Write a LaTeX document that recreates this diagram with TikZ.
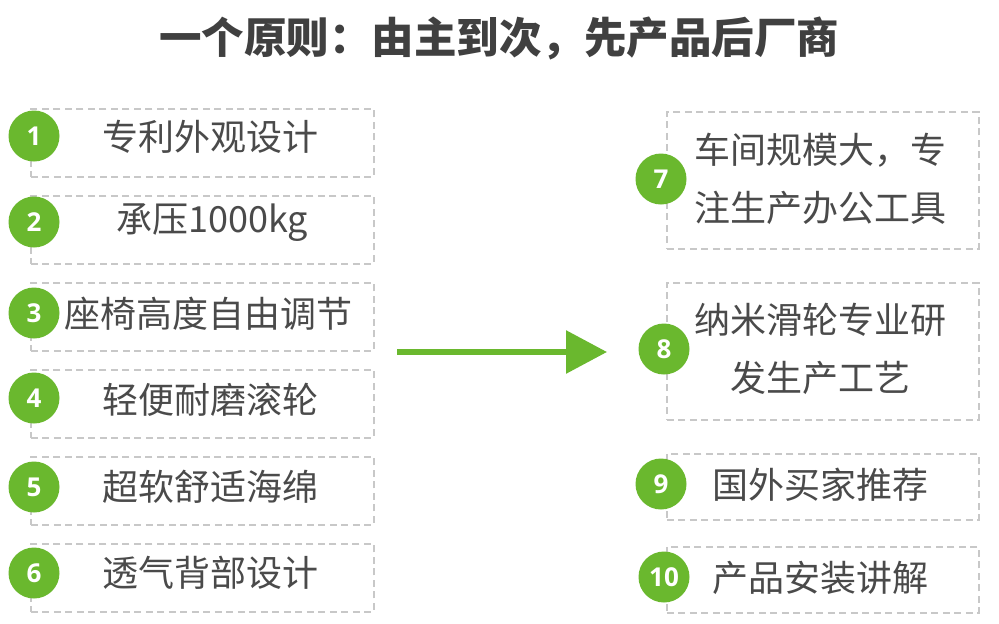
\documentclass[tikz,border=0pt]{standalone}
\usepackage{fontspec}
\setmainfont{Noto Sans CJK SC}
\newfontfamily\numfont{Open Sans}
\usetikzlibrary{arrows.meta}
\definecolor{leafgreen}{HTML}{6AB82E}
\definecolor{boxgray}{HTML}{C8C8C8}
\definecolor{txtgray}{HTML}{4A4A4A}
\definecolor{titlegray}{HTML}{404040}
\tikzset{
  box/.style={draw=boxgray, line width=1.6pt, dash pattern=on 7pt off 4.5pt, inner sep=0pt, anchor=north west},
  num/.style={circle, fill=leafgreen, minimum size=51pt, inner sep=0pt, text=white, font=\numfont\bfseries\fontsize{26}{26}\selectfont},
  lbl/.style={text=txtgray, font=\fontsize{36}{58}\selectfont, align=center, inner sep=0pt},
  ttl/.style={text=titlegray, font=\bfseries\fontsize{42.5}{42.5}\selectfont, inner sep=0pt},
  bigarrow/.style={draw=leafgreen, line width=6pt, -{Triangle[length=41pt, width=42pt, fill=leafgreen]}}
}
\begin{document}
\begin{tikzpicture}[x=1pt,y=-1pt]
\useasboundingbox[fill=white] (0,0) rectangle (999,624);
\node[ttl] (title) at (499,38) {一个原则：由主到次，先产品后厂商};
% left boxes
\node[box, minimum width=343pt, minimum height=68pt] (b1) at (30,108) {};
\node[box, minimum width=343pt, minimum height=68pt] (b2) at (30,195) {};
\node[box, minimum width=343pt, minimum height=68pt] (b3) at (30,282) {};
\node[box, minimum width=343pt, minimum height=68pt] (b4) at (30,369) {};
\node[box, minimum width=343pt, minimum height=68pt] (b5) at (30,456) {};
\node[box, minimum width=343pt, minimum height=68pt] (b6) at (30,543) {};
% right boxes
\node[box, minimum width=312pt, minimum height=137pt] (b7) at (666,111) {};
\node[box, minimum width=312pt, minimum height=137pt] (b8) at (666,282) {};
\node[box, minimum width=312pt, minimum height=66pt] (b9) at (666,453) {};
\node[box, minimum width=312pt, minimum height=66pt] (b10) at (666,546) {};
% left labels
\node[lbl] (t1) at (210,137) {专利外观设计};
\node[lbl] (t2) at (212,223) {承压1000kg};
\node[lbl] (t3) at (208,314) {座椅高度自由调节};
\node[lbl] (t4) at (210,400) {轻便耐磨滚轮};
\node[lbl] (t5) at (210,487) {超软舒适海绵};
\node[lbl] (t6) at (210,573) {透气背部设计};
% right labels
\node[lbl] (t7) at (820,179) {车间规模大，专\\注生产办公工具};
\node[lbl] (t8) at (820,349) {纳米滑轮专业研\\发生产工艺};
\node[lbl] (t9) at (820,485) {国外买家推荐};
\node[lbl] (t10) at (820,578) {产品安装讲解};
% circles
\node[num] (c1) at (34,136) {1};
\node[num] (c2) at (34,222) {2};
\node[num] (c3) at (34,313) {3};
\node[num] (c4) at (34,398) {4};
\node[num] (c5) at (34,487) {5};
\node[num] (c6) at (34,573) {6};
\node[num] (c7) at (661,179) {7};
\node[num] (c8) at (664,349) {8};
\node[num] (c9) at (661,484) {9};
\node[num] (c10) at (664,577) {10};
% arrow
\coordinate (arrS) at (397,352);
\coordinate (arrE) at (607,352);
\draw[bigarrow] (arrS) -- (arrE);
\end{tikzpicture}
\end{document}
